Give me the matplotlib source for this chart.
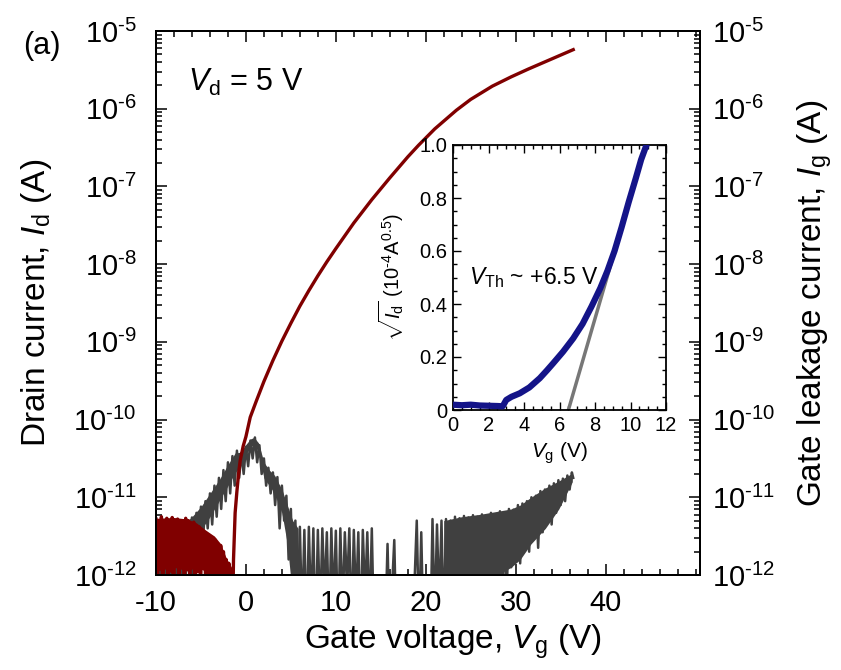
import numpy as np
import matplotlib
matplotlib.use("Agg")
import matplotlib.pyplot as plt
from matplotlib.ticker import (LogLocator, NullFormatter, MultipleLocator,
                               FixedLocator, FuncFormatter)

plt.rcParams["font.family"] = ["Liberation Sans", "DejaVu Sans"]
plt.rcParams["mathtext.fontset"] = "custom"
plt.rcParams["mathtext.rm"] = "Liberation Sans"
plt.rcParams["mathtext.it"] = "Liberation Sans:italic"
plt.rcParams["mathtext.bf"] = "Liberation Sans:bold"
plt.rcParams["axes.unicode_minus"] = False

# ---- drain current (Vd = 5 V), log10(Id / A) ----
vg_d = [-10.0, -9.85, -9.7, -9.55, -9.4, -9.25, -9.1, -8.95, -8.8, -8.65,
        -8.5, -8.35, -8.2, -8.05, -7.9, -7.75, -7.6, -7.45, -7.3, -7.15,
        -7.0, -6.85, -6.7, -6.55, -6.4, -6.25, -6.1, -5.95, -5.8, -5.65,
        -5.5, -5.35, -5.2, -5.05, -4.9, -4.75, -4.6, -4.45, -4.3, -4.15,
        -4.0, -3.85, -3.7, -3.55, -3.4, -3.25, -3.1, -2.95, -2.8, -2.65,
        -2.5, -2.35, -2.2, -2.05, -1.9, -1.75, -1.6, -1.5, -1.45, -1.38,
        -1.2, -1.0, -0.8, -0.64, -0.3, 0.0, 0.48, 1.16, 2.0, 3.0,
        4.0, 5.0, 6.0, 7.0, 8.0, 9.0, 10.0, 12.0, 14.0, 16.0,
        18.0, 19.2, 21.0, 23.4, 25.0, 27.4, 29.5, 31.4, 34.0, 36.4]
log_id = [-11.28, -12.2, -11.3, -11.9, -11.25, -12.4, -11.3, -11.8, -11.27, -12.1,
          -11.32, -11.95, -11.26, -12.5, -11.3, -11.85, -11.28, -12.2, -11.33, -11.9,
          -11.3, -12.3, -11.27, -11.8, -11.3, -12.1, -11.35, -11.9, -11.32, -12.4,
          -11.4, -11.95, -11.38, -12.2, -11.42, -11.9, -11.45, -12.3, -11.5, -12.0,
          -11.5, -12.4, -11.52, -11.95, -11.55, -12.3, -11.6, -12.1, -11.62, -12.4,
          -11.7, -12.0, -11.8, -12.5, -11.85, -12.1, -11.95, -12.05, -12.3, -11.8,
          -11.2, -10.92, -10.68, -10.53, -10.34, -10.22, -9.97, -9.76, -9.51, -9.24,
          -8.99, -8.76, -8.54, -8.34, -8.15, -7.97, -7.8, -7.47, -7.17, -6.89,
          -6.62, -6.47, -6.26, -6.02, -5.88, -5.71, -5.59, -5.49, -5.36, -5.24]
# dense off-state block of the drain trace (upper / lower edge)
red_band_vg = [-10.0, -8.0, -6.5, -5.5, -4.5, -3.5, -2.8, -2.2, -1.6]
red_band_hi = [-11.27, -11.26, -11.28, -11.33, -11.42, -11.5, -11.6, -11.78, -11.9]
red_band_lo = [-11.95, -11.9, -11.95, -11.9, -11.95, -12.0, -12.0, -12.1, -12.2]

# ---- gate leakage current, log10(Ig / A) ----
vg_g = [-10.0, -9.75, -9.5, -9.25, -9.0, -8.75, -8.5, -8.25, -8.0, -7.75,
        -7.5, -7.25, -7.0, -6.75, -6.5, -6.25, -6.0, -5.75, -5.5, -5.25,
        -5.0, -4.75, -4.5, -4.25, -4.0, -3.75, -3.5, -3.25, -3.0, -2.75,
        -2.5, -2.25, -2.0, -1.75, -1.5, -1.25, -1.0, -0.75, -0.5, -0.25,
        0.0, 0.25, 0.5, 0.75, 1.0, 1.25, 1.5, 1.75, 2.0, 2.25,
        2.5, 2.75, 3.0, 3.25, 3.5, 3.75, 4.0, 4.25, 4.5, 4.75,
        5.0, 5.25, 5.5, 5.75, 6.0, 6.25, 6.5, 6.75, 7.0, 7.25,
        7.5, 7.75, 8.0, 8.25, 8.5, 8.75, 9.0, 9.25, 9.5, 9.75,
        10.0, 10.25, 10.5, 10.75, 11.0, 11.25, 11.5, 11.75, 12.0, 12.25,
        12.5, 12.75, 13.0, 13.25, 13.5, 13.75, 14.0, 14.25, 14.5, 15.0,
        15.5, 15.75, 16.0, 16.5, 16.75, 17.5, 18.5, 19.0, 19.25, 19.5,
        19.75, 20.5, 20.75, 21.0, 21.25, 21.5, 21.75, 22.0, 22.25, 22.5,
        22.75, 23.0, 23.25, 23.5, 23.75, 24.0, 24.25, 24.5, 24.75, 25.0,
        25.25, 25.5, 25.75, 26.0, 26.25, 26.5, 26.75, 27.0, 27.25, 27.5,
        27.75, 28.0, 28.25, 28.5, 28.75, 29.0, 29.25, 29.5, 29.75, 30.0,
        30.25, 30.5, 30.75, 31.0, 31.25, 31.5, 31.75, 32.0, 32.25, 32.5,
        32.75, 33.0, 33.25, 33.5, 33.75, 34.0, 34.25, 34.5, 34.75, 35.0,
        35.25, 35.5, 35.75, 36.0, 36.25, 36.4]
log_ig = [-11.4, -12.3, -11.45, -12.0, -11.4, -12.4, -11.5, -12.1, -11.45, -12.3,
          -11.4, -11.9, -11.4, -12.2, -11.35, -11.8, -11.26, -11.65, -11.2, -11.55,
          -11.12, -11.5, -11.05, -11.4, -10.95, -11.35, -10.85, -11.25, -10.75, -11.15,
          -10.65, -11.05, -10.55, -10.95, -10.47, -10.85, -10.4, -10.75, -10.43, -10.7,
          -10.35, -10.6, -10.27, -10.5, -10.23, -10.55, -10.33, -10.7, -10.5, -10.85,
          -10.62, -10.95, -10.68, -11.1, -10.74, -11.4, -10.85, -11.3, -10.98, -11.8,
          -11.15, -12.3, -11.3, -12.5, -11.38, -12.6, -11.42, -12.8, -11.38, -12.5,
          -11.4, -12.9, -11.42, -12.6, -11.4, -12.3, -11.45, -12.7, -11.4, -12.4,
          -11.43, -12.8, -11.4, -12.5, -11.45, -12.2, -11.4, -12.7, -11.42, -12.4,
          -11.45, -12.9, -11.42, -12.3, -11.45, -12.6, -11.4, -12.8, -12.9, -12.8,
          -12.7, -11.6, -12.8, -11.55, -12.9, -12.8, -12.9, -11.3, -12.7, -11.45,
          -12.8, -12.9, -11.28, -12.6, -11.35, -12.4, -11.3, -12.7, -11.28, -12.4,
          -11.3, -12.8, -11.25, -12.5, -11.27, -12.9, -11.24, -12.3, -11.26, -12.7,
          -11.23, -12.4, -11.25, -12.8, -11.22, -12.2, -11.24, -12.6, -11.2, -12.8,
          -11.22, -12.5, -11.18, -12.7, -11.2, -12.3, -11.15, -11.9, -11.16, -11.75,
          -11.1, -11.85, -11.08, -11.6, -11.05, -11.7, -11.0, -11.5, -10.98, -11.65,
          -10.92, -11.45, -10.9, -11.3, -10.85, -11.35, -10.82, -11.2, -10.78, -11.1,
          -10.76, -11.05, -10.72, -10.9, -10.68, -10.75]
# dense parts of the leakage trace (upper / lower edge of the noise band)
g_band_vg = [-10.0, -8.0, -6.5, -6.0, -5.0, -4.0, -3.0, -2.0, -1.2, -0.6,
             0.0, 0.5, 0.9, 1.4, 2.0, 2.6, 3.2, 4.0, 4.6, 5.2, 5.8]
g_band_hi = [-11.35, -11.35, -11.3, -11.25, -11.12, -10.95, -10.78, -10.58, -10.43, -10.42,
             -10.32, -10.25, -10.23, -10.3, -10.55, -10.65, -10.72, -10.9, -11.1, -11.3, -11.4]
g_band_lo = [-12.5, -12.3, -11.8, -11.6, -11.42, -11.25, -11.05, -10.85, -10.68, -10.6,
             -10.45, -10.35, -10.32, -10.42, -10.75, -10.85, -10.95, -11.2, -11.6, -12.3, -12.6]
g_tail_vg = [22.0, 24.0, 26.0, 28.0, 29.5, 30.5, 31.7, 33.3, 34.8, 36.3]
g_tail_hi = [-11.3, -11.25, -11.22, -11.18, -11.15, -11.1, -11.0, -10.88, -10.79, -10.69]
g_tail_lo = [-12.15, -12.1, -12.1, -12.0, -11.9, -11.8, -11.6, -11.4, -11.15, -10.8]

# ---- inset: sqrt(Id) in 1e-4 A^0.5 ----
vg_sq = [0.0, 0.5, 1.0, 1.5, 2.0, 2.5, 2.8, 3.0, 3.3, 3.76, 4.3, 4.89,
         5.3, 5.64, 6.2, 6.77, 7.3, 7.8, 8.3, 8.7, 9.1, 9.5, 9.9, 10.3,
         10.6, 10.9, 11.0]
sqrt_id = [0.02, 0.018, 0.02, 0.017, 0.016, 0.015, 0.014, 0.038, 0.05, 0.063, 0.085, 0.12,
           0.15, 0.176, 0.22, 0.27, 0.325, 0.39, 0.46, 0.525, 0.6, 0.69, 0.785, 0.875,
           0.945, 1.0, 1.02]
fit_vg = [6.5, 10.85]
fit_sq = [0.0, 1.0]

RED = "#800000"
GRAY = "#404040"
BLUE = "#141488"


def log_label(v, pos):
    return "$10^{\\text{%d}}$" % int(round(np.log10(v)))


fig = plt.figure(figsize=(8.41, 6.70), dpi=100)
ax = fig.add_axes([156 / 841, 1 - 575 / 670, 544 / 841, 544 / 670])
ax2 = ax.twinx()

ax.fill_between(g_band_vg, 10 ** np.array(g_band_lo), 10 ** np.array(g_band_hi),
                color=GRAY, lw=0, zorder=2)
ax.fill_between(g_tail_vg, 10 ** np.array(g_tail_lo), 10 ** np.array(g_tail_hi),
                color=GRAY, lw=0, zorder=2)
ax.plot(vg_g, 10 ** np.array(log_ig), color=GRAY, lw=1.8, zorder=2)
ax.fill_between(red_band_vg, 10 ** np.array(red_band_lo), 10 ** np.array(red_band_hi),
                color=RED, lw=0, zorder=3)
ax.plot(vg_d, 10 ** np.array(log_id), color=RED, lw=2.4, zorder=3)

for a in (ax, ax2):
    a.set_yscale("log")
    a.set_ylim(1e-12, 1e-5)
    a.yaxis.set_major_locator(LogLocator(base=10, numticks=20))
    a.yaxis.set_major_formatter(FuncFormatter(log_label))
    a.yaxis.set_minor_locator(LogLocator(base=10, subs=np.arange(2, 10), numticks=100))
    a.yaxis.set_minor_formatter(NullFormatter())
    for s in a.spines.values():
        s.set_linewidth(1.4)

ax.set_xlim(-10, 50.5)
ax.xaxis.set_major_locator(FixedLocator([-10, 0, 10, 20, 30, 40]))
ax.xaxis.set_minor_locator(MultipleLocator(2))
ax.tick_params(which="both", direction="in", top=True, right=False, labelsize=21, width=1.1)
ax.tick_params(which="major", length=8, pad=10)
ax.tick_params(axis="y", which="major", pad=14)
ax.tick_params(which="minor", length=4)
ax2.tick_params(which="both", direction="in", labelsize=21, width=1.1)
ax2.tick_params(which="major", length=8, pad=9)
ax2.tick_params(which="minor", length=4)

ax.set_xlabel("Gate voltage, $\\mathit{V}_\\mathrm{g}$ (V)", fontsize=24)
ax.xaxis.set_label_coords(0.545, -0.088)
ax.set_ylabel("Drain current, $\\mathit{I}_\\mathrm{d}$ (A)", fontsize=24, labelpad=14)
ax2.set_ylabel("Gate leakage current, $\\mathit{I}_\\mathrm{g}$ (A)", fontsize=24, labelpad=14)

ax.text(0.058, 0.905, "$\\mathit{V}_\\mathrm{d}$ = 5 V", transform=ax.transAxes,
        fontsize=22, va="center", ha="left")
fig.text(23 / 841, 1 - 46 / 670, "(a)", fontsize=22, va="center", ha="left")

# inset
axi = fig.add_axes([453 / 841, 1 - 410 / 670, 213 / 841, 265 / 670])
axi.plot(fit_vg, fit_sq, color="#777777", lw=2.5, zorder=2)
axi.plot(vg_sq, sqrt_id, color=BLUE, lw=4.5, zorder=3)
axi.set_xlim(0, 12)
axi.set_ylim(0, 1.0)
axi.xaxis.set_major_locator(MultipleLocator(2))
axi.xaxis.set_minor_locator(MultipleLocator(0.5))
axi.yaxis.set_major_locator(FixedLocator([0, 0.2, 0.4, 0.6, 0.8, 1.0]))
axi.yaxis.set_minor_locator(MultipleLocator(0.05))
axi.set_yticklabels(["0", "0.2", "0.4", "0.6", "0.8", "1.0"])
axi.tick_params(which="both", direction="in", top=True, right=True, labelsize=14.5, width=1.0, pad=4)
axi.tick_params(which="major", length=6)
axi.tick_params(which="minor", length=3)
for s in axi.spines.values():
    s.set_linewidth(1.3)
axi.set_xlabel("$\\mathit{V}_\\mathrm{g}$ (V)", fontsize=15, labelpad=4)
axi.set_ylabel("$\\sqrt{\\mathit{I}_\\mathrm{d}}$ (10$^{\\text{-4}}$A$^{0.5}$)", fontsize=14.5, labelpad=10)
axi.text(0.9, 0.5, "$\\mathit{V}_\\mathrm{Th}$ ~ +6.5 V", fontsize=16.5, va="center", ha="left")

fig.savefig("out.png", dpi=100)
